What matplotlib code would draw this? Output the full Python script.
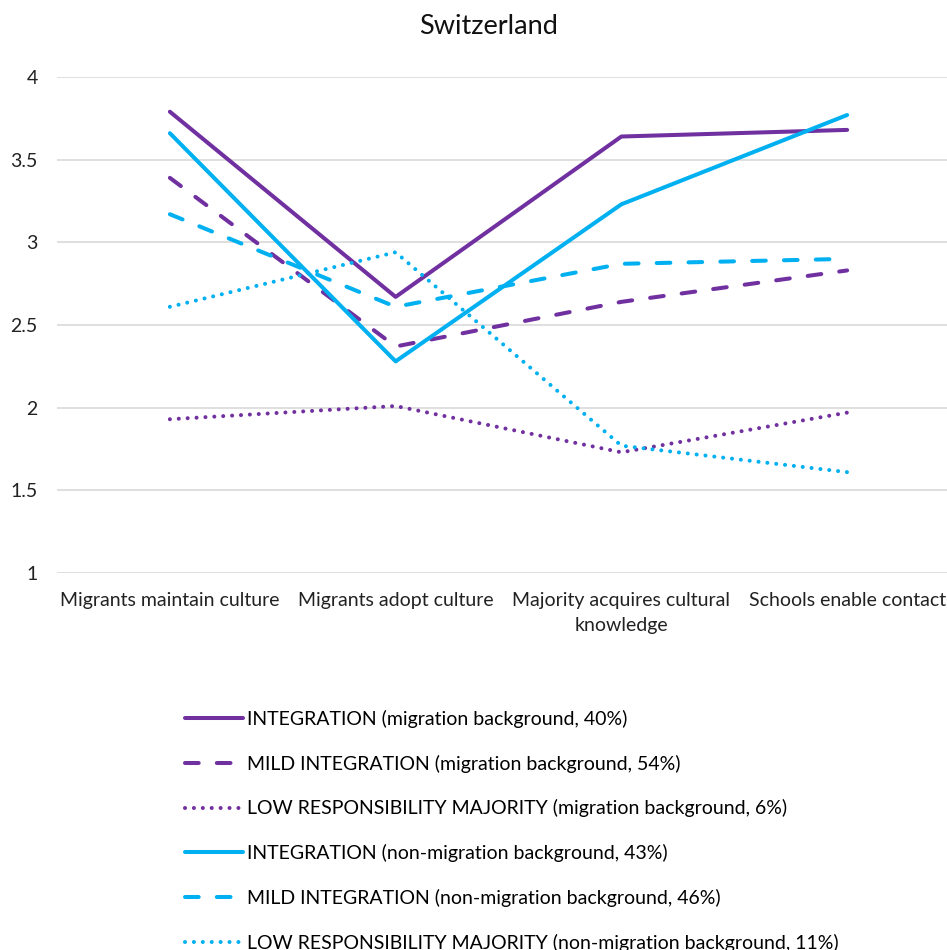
import matplotlib.pyplot as plt

plt.rcParams['font.family'] = ['Lato', 'DejaVu Sans']

categories = ['Migrants maintain culture', 'Migrants adopt culture',
              'Majority acquires cultural\nknowledge', 'Schools enable contact']

int_mig = [3.79, 2.67, 3.64, 3.68]
mild_mig = [3.39, 2.37, 2.64, 2.83]
low_mig = [1.93, 2.01, 1.73, 1.97]
int_non = [3.66, 2.28, 3.23, 3.77]
mild_non = [3.17, 2.61, 2.87, 2.90]
low_non = [2.61, 2.94, 1.77, 1.61]

labels = ['INTEGRATION (migration background, 40%)',
          'MILD INTEGRATION (migration background, 54%)',
          'LOW RESPONSIBILITY MAJORITY (migration background, 6%)',
          'INTEGRATION (non-migration background, 43%)',
          'MILD INTEGRATION (non-migration background, 46%)',
          'LOW RESPONSIBILITY MAJORITY (non-migration background, 11%)']

purple = '#7030A0'
cyan = '#00B0F0'

fig = plt.figure(figsize=(9.47, 9.5), dpi=100)
ax = fig.add_axes([57/947, 1-573/950, 903/947, 496/950])

x = range(len(categories))
lw = 2.9
dash = (3.4, 4.5)
dot = (0.01, 2.2)

series = [(int_mig, purple, None), (mild_mig, purple, dash), (low_mig, purple, dot),
          (int_non, cyan, None), (mild_non, cyan, dash), (low_non, cyan, dot)]

for (vals, col, ds), lab in zip(series, labels):
    line, = ax.plot(x, vals, color=col, lw=lw, label=lab,
                    solid_capstyle='round', dash_capstyle='round', clip_on=False)
    if ds is not None:
        line.set_dashes(ds)

ax.set_xlim(-0.5, 3.5)
ax.set_ylim(1, 4)
ax.set_yticks([1, 1.5, 2, 2.5, 3, 3.5, 4])
ax.set_yticklabels(['1', '1.5', '2', '2.5', '3', '3.5', '4'])
ax.set_xticks(list(x))
ax.set_xticklabels(categories, linespacing=1.55)
ax.tick_params(axis='both', length=0, labelsize=14, colors='#222222')
ax.tick_params(axis='y', pad=14)
ax.tick_params(axis='x', pad=14)
ax.grid(axis='y', color='#D9D9D9', lw=1.2)
ax.set_axisbelow(True)
for s in ax.spines.values():
    s.set_visible(False)

fig.text(489/947, 1-27/950, 'Switzerland', ha='center', va='center', fontsize=19.5, color='#111111')

fig.legend(loc='upper left', bbox_to_anchor=(185/947, 1-710/950), frameon=False,
           fontsize=14, handlelength=3.0, handletextpad=0.2, labelspacing=1.37,
           borderpad=0, borderaxespad=0)

fig.savefig('out.png', dpi=100)
